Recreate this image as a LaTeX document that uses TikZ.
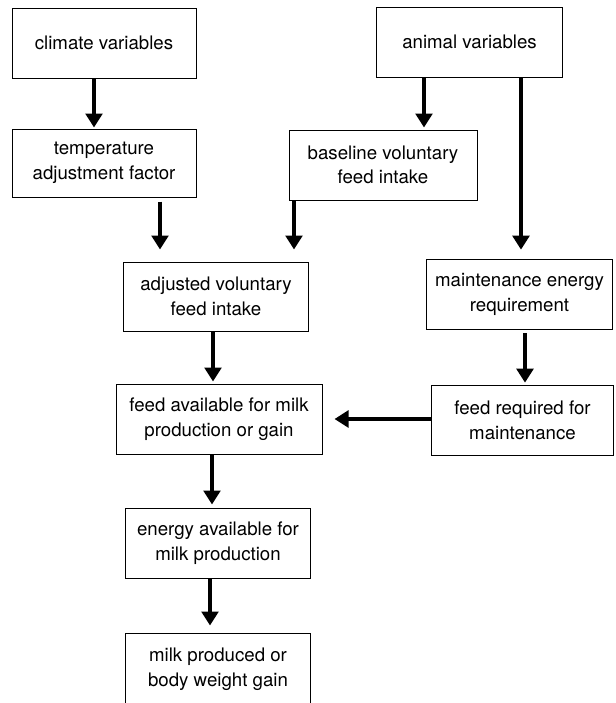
\documentclass[tikz,border=0pt]{standalone}
\usepackage{fontspec}
\setmainfont{TeX Gyre Heros}
\usetikzlibrary{arrows.meta,positioning,calc}

\begin{document}
\begin{tikzpicture}[
  x=0.75pt, y=-0.75pt,
  box/.style={draw, line width=0.75pt, align=center, inner sep=0pt,
    minimum width=139pt, minimum height=52.5pt,
    font=\fontsize{14}{18.5}\selectfont},
  arr/.style={-{Triangle[length=10.5pt,width=12.5pt]}, line width=3pt}
]
  \useasboundingbox (0,0) rectangle (615,703);
  \clip (0,0) rectangle (615,703);
  \node[box, minimum width=138pt] (climate) at (104,43) {climate variables};
  \node[box, minimum width=138pt, minimum height=51pt] (temp) at (104,163) {temperature\\adjustment factor};
  \node[box, minimum width=140pt] (animal) at (469.5,42) {animal variables};
  \node[box, minimum width=141pt] (baseline) at (383,165) {baseline voluntary\\feed intake};
  \node[box, minimum height=51.75pt] (adjusted) at (216,296.5) {adjusted voluntary\\feed intake};
  \node[box, minimum width=140pt, minimum height=53pt] (maint) at (519.5,294.5) {maintenance energy\\requirement};
  \node[box, minimum width=154.5pt] (feedavail) at (219,419) {feed available for milk\\production or gain};
  \node[box, minimum width=137pt, minimum height=53pt] (feedreq) at (522.5,420.5) {feed required for\\maintenance};
  \node[box] (energy) at (218,543) {energy available for\\milk production};
  \node[box, minimum height=54pt] (milk) at (218,669) {milk produced or\\body weight gain};
  \draw[arr] ($(climate.south)+(-10,0)$) -- ($(temp.north)+(-10,-1)$);
  \draw[arr] ($(animal.south)+(-45.5,0)$) -- ($(baseline.north)+(41,-2)$);
  \draw[arr] ($(animal.south)+(51.5,0)$) -- ($(maint.north)+(1.5,-9)$);
  \draw[arr] ($(temp.south)+(56,4)$) -- ($(adjusted.north)+(-56,-12)$);
  \draw[arr] ($(baseline.south)+(-89,0)$) -- ($(adjusted.north)+(78,-12)$);
  \draw[arr] ($(adjusted.south)+(-3,0)$) -- ($(feedavail.north)+(-6,-2)$);
  \draw[arr] ($(maint.south)+(5.5,3)$) -- ($(feedreq.north)+(2.5,-2)$);
  \draw[arr] ($(feedreq.west)+(0,-1.5)$) -- ($(feedavail.east)+(12,0)$);
  \draw[arr] ($(feedavail.south)+(-7,0)$) -- ($(energy.north)+(-6,-3)$);
  \draw[arr] ($(energy.south)+(-8,0)$) -- ($(milk.north)+(-8,-7)$);
\end{tikzpicture}
\end{document}
